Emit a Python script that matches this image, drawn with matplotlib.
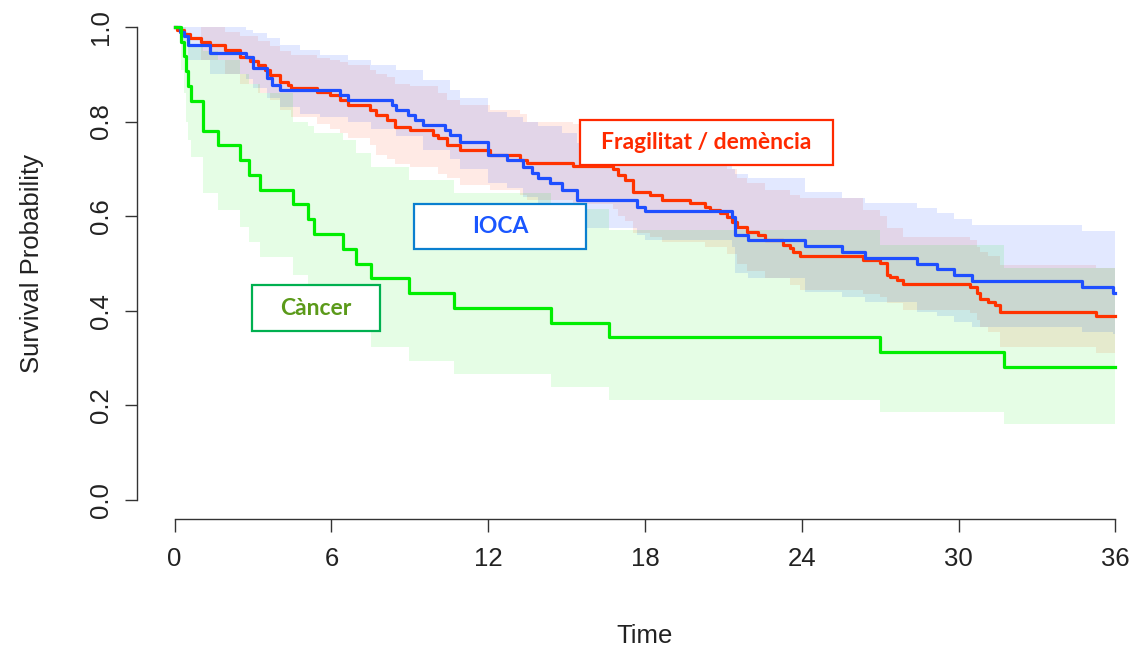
import numpy as np
import matplotlib
matplotlib.use("Agg")
import matplotlib.pyplot as plt
from matplotlib.patches import Rectangle

plt.rcParams['font.family'] = ['Liberation Sans', 'DejaVu Sans']

# Kaplan-Meier estimates (months, survival) per group
frag_t = [0, 0.1, 0.35, 0.57, 1.02, 1.34, 1.91, 2.49, 2.87, 3.19, 3.45, 3.64, 4.02, 4.34, 4.47,
          5.43, 5.94, 6.32, 6.64, 7.47, 7.72, 8.11, 8.43, 9.0, 9.88, 10.07, 10.41, 10.92, 12.06,
          13.21, 13.47, 15.25, 16.79, 16.98, 17.23, 17.55, 18.19, 18.64, 19.72, 20.3, 20.49,
          20.87, 21.13, 21.32, 21.51, 21.9, 22.34, 22.6, 23.29, 23.56, 23.67, 23.94, 26.35, 27.0,
          27.26, 27.38, 27.64, 27.89, 30.45, 30.7, 30.83, 31.14, 31.4, 31.6, 35.24]
frag_s = [1.0, 0.993, 0.986, 0.976, 0.969, 0.962, 0.951, 0.937, 0.927, 0.92, 0.909, 0.899, 0.884,
          0.877, 0.87, 0.863, 0.856, 0.846, 0.835, 0.825, 0.814, 0.803, 0.789, 0.782, 0.772, 0.765,
          0.75, 0.74, 0.729, 0.719, 0.712, 0.706, 0.699, 0.687, 0.677, 0.652, 0.645, 0.634, 0.627,
          0.62, 0.613, 0.606, 0.599, 0.588, 0.578, 0.567, 0.56, 0.55, 0.539, 0.532, 0.525, 0.516,
          0.507, 0.501, 0.476, 0.472, 0.465, 0.457, 0.451, 0.437, 0.426, 0.419, 0.412, 0.398, 0.389]

ioca_t = [0, 0.19, 0.35, 0.5, 1.34, 2.75, 3.0, 3.53, 3.73, 4.02, 6.32, 6.64, 8.3, 8.49, 8.92,
          9.19, 9.5, 10.34, 10.53, 10.92, 12.0, 12.7, 13.33, 13.66, 13.9, 14.36, 14.81, 15.38,
          17.68, 18.0, 21.32, 21.45, 21.95, 24.13, 25.53, 26.43, 28.41, 29.17, 29.81, 30.51,
          34.73, 35.92]
ioca_s = [1.0, 0.99, 0.98, 0.962, 0.944, 0.937, 0.913, 0.892, 0.877, 0.867, 0.856, 0.846, 0.835,
          0.825, 0.814, 0.803, 0.793, 0.782, 0.772, 0.757, 0.729, 0.719, 0.705, 0.691, 0.681,
          0.67, 0.655, 0.634, 0.62, 0.61, 0.599, 0.56, 0.55, 0.536, 0.525, 0.511, 0.5, 0.488,
          0.476, 0.463, 0.45, 0.437]

canc_t = [0, 0.25, 0.35, 0.45, 0.5, 0.64, 1.08, 1.66, 2.49, 2.83, 3.25, 4.52, 5.09, 5.32, 6.43,
          6.93, 7.51, 8.96, 10.69, 14.4, 16.62, 27.0, 31.75]
canc_s = [1.0, 0.969, 0.9375, 0.906, 0.875, 0.844, 0.781, 0.75, 0.719, 0.6875, 0.656, 0.625,
          0.594, 0.5625, 0.531, 0.5, 0.469, 0.4375, 0.406, 0.375, 0.344, 0.3125, 0.281]

# 95% confidence limits
frag_ci_t = [0, 1.02, 1.91, 2.49, 3.19, 3.64, 4.02, 4.47, 5.43, 5.94, 6.32, 6.64, 7.47, 7.72,
             8.11, 8.43, 9.0, 10.07, 10.41, 10.92, 12.06, 13.21, 13.47, 15.25, 16.79, 16.98,
             17.23, 17.55, 18.19, 18.64, 20.3, 21.13, 21.51, 21.9, 22.6, 23.56, 23.94, 26.35,
             27.0, 27.26, 27.89, 30.45, 30.7, 30.83, 31.14, 31.6, 35.24]
frag_hi = [1.0, 1.0, 0.99, 0.98, 0.97, 0.96, 0.95, 0.94, 0.935, 0.93, 0.925, 0.92, 0.91, 0.9,
           0.895, 0.88, 0.875, 0.86, 0.845, 0.835, 0.825, 0.815, 0.8, 0.795, 0.79, 0.78, 0.77,
           0.745, 0.74, 0.73, 0.715, 0.7, 0.68, 0.67, 0.655, 0.645, 0.638, 0.613, 0.6, 0.575,
           0.557, 0.55, 0.535, 0.525, 0.515, 0.497, 0.49]
frag_lo = [1.0, 0.93, 0.9, 0.88, 0.86, 0.845, 0.825, 0.81, 0.795, 0.785, 0.775, 0.765, 0.75,
           0.73, 0.72, 0.71, 0.705, 0.69, 0.68, 0.665, 0.655, 0.645, 0.635, 0.625, 0.615, 0.6,
           0.59, 0.565, 0.555, 0.545, 0.535, 0.52, 0.5, 0.485, 0.47, 0.455, 0.445, 0.435, 0.43,
           0.416, 0.402, 0.395, 0.38, 0.366, 0.356, 0.324, 0.31]

ioca_ci_t = [0, 0.19, 0.5, 1.34, 2.75, 3.0, 3.53, 4.02, 4.8, 5.55, 6.64, 7.5, 8.49, 9.5, 10.53,
             10.92, 12.0, 12.7, 13.33, 13.9, 14.81, 15.38, 17.68, 18.0, 21.32, 21.45, 21.95,
             24.13, 25.53, 26.43, 28.41, 29.17, 29.81, 30.51, 34.73, 35.92]
ioca_hi = [1.0, 1.0, 1.0, 1.0, 0.994, 0.987, 0.977, 0.962, 0.951, 0.94, 0.93, 0.92, 0.909,
           0.888, 0.867, 0.85, 0.82, 0.81, 0.8, 0.79, 0.775, 0.755, 0.74, 0.72, 0.7, 0.69, 0.68,
           0.652, 0.638, 0.628, 0.617, 0.607, 0.594, 0.581, 0.569, 0.569]
ioca_lo = [1.0, 0.97, 0.93, 0.9, 0.89, 0.87, 0.85, 0.83, 0.815, 0.81, 0.8, 0.785, 0.77, 0.74,
           0.72, 0.7, 0.67, 0.66, 0.64, 0.62, 0.6, 0.575, 0.56, 0.55, 0.535, 0.48, 0.47, 0.44,
           0.43, 0.419, 0.398, 0.388, 0.376, 0.366, 0.356, 0.35]

canc_hi = [1.0, 1.0, 1.0, 0.99, 0.98, 0.96, 0.95, 0.93, 0.9, 0.88, 0.86, 0.8, 0.79, 0.775, 0.76,
           0.734, 0.705, 0.677, 0.649, 0.615, 0.57, 0.54, 0.49]
canc_lo = [1.0, 0.91, 0.86, 0.8, 0.76, 0.725, 0.649, 0.613, 0.578, 0.545, 0.513, 0.476, 0.45,
           0.42, 0.39, 0.36, 0.323, 0.294, 0.266, 0.239, 0.211, 0.186, 0.161]

t_max = 36

groups = [
    (frag_t, frag_s, frag_ci_t, frag_lo, frag_hi, '#ff3300', 0.10),
    (ioca_t, ioca_s, ioca_ci_t, ioca_lo, ioca_hi, '#1f4fff', 0.13),
    (canc_t, canc_s, canc_t, canc_lo, canc_hi, '#00ee00', 0.10),
]


def extend(t, v):
    return np.append(t, t_max), np.append(v, v[-1])


fig = plt.figure(figsize=(11.39, 6.52), dpi=100)
ax = fig.add_axes([137 / 1139, 1 - 519 / 652, 1016 / 1139, 511 / 652])

for t, s, ct, lo, hi, col, a in groups:
    x, lo_e = extend(ct, lo)
    _, hi_e = extend(ct, hi)
    ax.fill_between(x, lo_e, hi_e, step='post', color=col, alpha=a, linewidth=0)

for t, s, ct, lo, hi, col, a in groups:
    x, y = extend(t, s)
    ax.step(x, y, where='post', color=col, lw=2.3, zorder=3)

ax.set_xlim(-1.44, 37.44)
ax.set_ylim(-0.04, 1.04)
ax.set_xticks(range(0, 37, 6))
ax.set_yticks([0, 0.2, 0.4, 0.6, 0.8, 1.0])
ax.set_yticklabels(['0.0', '0.2', '0.4', '0.6', '0.8', '1.0'], rotation=90, va='center')
for s in ['top', 'right']:
    ax.spines[s].set_visible(False)
ax.spines['left'].set_bounds(0, 1)
ax.spines['bottom'].set_bounds(0, 36)
for s in ['left', 'bottom']:
    ax.spines[s].set_linewidth(1.0)
    ax.spines[s].set_color('#333333')
ax.tick_params(axis='both', length=9, width=1.0, color='#333333', labelsize=18.5,
               labelcolor='#222222')
ax.tick_params(axis='x', pad=11)
ax.tick_params(axis='y', pad=8)
ax.set_xlabel('Time', fontsize=18.5, color='#222222', labelpad=38)
ax.set_ylabel('Survival Probability', fontsize=18.5, color='#222222', labelpad=33)

# group labels
labels = [
    ('Fragilitat / demència', 15.51, 0.708, 25.2, 0.803, '#ff2a00', '#ff2a00'),
    ('IOCA', 9.15, 0.531, 15.74, 0.626, '#0a7fcf', '#1a56ff'),
    ('Càncer', 2.95, 0.357, 7.85, 0.4545, '#00b050', '#5b9a1a'),
]
for txt, x0, y0, x1, y1, edge, tcol in labels:
    ax.add_patch(Rectangle((x0, y0), x1 - x0, y1 - y0, facecolor='white', edgecolor=edge,
                           lw=1.6, zorder=5))
    ax.text((x0 + x1) / 2, (y0 + y1) / 2, txt, ha='center', va='center', color=tcol,
            fontsize=16.5, fontweight='bold', family=['Lato', 'DejaVu Sans'], zorder=6)

fig.savefig('out.png', dpi=100)
